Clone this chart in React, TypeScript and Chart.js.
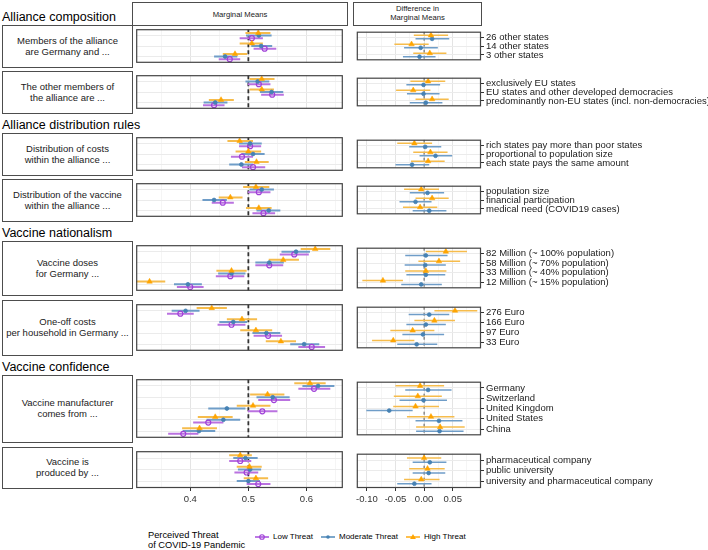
import React, { useEffect, useRef } from "react";
import { Chart, registerables } from "chart.js";

Chart.register(...registerables);

const FONT = '"Liberation Sans", Arial, Helvetica, sans-serif';

// ---------- level labels ----------
const membersLevels = ["26 other states", "14 other states", "3 other states"];
const othersLevels = [
  "exclusively EU states",
  "EU states and other developed democracies",
  "predominantly non-EU states (incl. non-democracies)",
];
const costsLevels = [
  "rich states pay more than poor states",
  "proportional to population size",
  "each state pays the same amount",
];
const vaccineLevels = ["population size", "financial participation", "medical need (COVID19 cases)"];
const dosesLevels = [
  "82 Million (~ 100% population)",
  "58 Million (~ 70% population)",
  "33 Million (~ 40% population)",
  "12 Million (~ 15% population)",
];
const householdLevels = ["276 Euro", "166 Euro", "97 Euro", "33 Euro"];
const countryLevels = ["Germany", "Switzerland", "United Kingdom", "United States", "China"];
const producerLevels = ["pharmaceutical company", "public university", "university and pharmaceutical company"];

// ---------- marginal means (28 levels in display order) ----------
const mmLow = [0.506, 0.528, 0.468, 0.518, 0.541, 0.441, 0.503, 0.489, 0.508, 0.518, 0.456, 0.526, 0.579, 0.536, 0.469, 0.400, 0.383, 0.471, 0.534, 0.609, 0.613, 0.544, 0.524, 0.431, 0.388, 0.486, 0.497, 0.517];
const mmLowLo = [0.485, 0.509, 0.449, 0.499, 0.522, 0.422, 0.484, 0.470, 0.489, 0.499, 0.437, 0.507, 0.554, 0.512, 0.444, 0.377, 0.360, 0.447, 0.509, 0.586, 0.586, 0.517, 0.499, 0.405, 0.362, 0.467, 0.476, 0.497];
const mmLowHi = [0.525, 0.548, 0.486, 0.538, 0.561, 0.459, 0.522, 0.508, 0.529, 0.538, 0.475, 0.546, 0.604, 0.560, 0.493, 0.423, 0.406, 0.495, 0.558, 0.632, 0.641, 0.572, 0.550, 0.457, 0.414, 0.505, 0.517, 0.538];

const mmMod = [0.518, 0.522, 0.460, 0.516, 0.540, 0.443, 0.503, 0.508, 0.488, 0.523, 0.441, 0.535, 0.582, 0.536, 0.471, 0.396, 0.392, 0.474, 0.531, 0.596, 0.620, 0.542, 0.463, 0.457, 0.415, 0.495, 0.503, 0.500];
const mmModLo = [0.496, 0.505, 0.441, 0.495, 0.520, 0.423, 0.484, 0.488, 0.467, 0.502, 0.421, 0.514, 0.557, 0.512, 0.448, 0.372, 0.368, 0.450, 0.507, 0.572, 0.593, 0.514, 0.431, 0.428, 0.387, 0.474, 0.482, 0.480];
const mmModHi = [0.540, 0.541, 0.481, 0.536, 0.560, 0.464, 0.523, 0.528, 0.508, 0.544, 0.463, 0.555, 0.606, 0.561, 0.495, 0.420, 0.416, 0.498, 0.555, 0.622, 0.648, 0.571, 0.495, 0.486, 0.443, 0.516, 0.522, 0.520];

const mmHigh = [0.517, 0.506, 0.477, 0.523, 0.523, 0.453, 0.485, 0.500, 0.514, 0.513, 0.469, 0.518, 0.615, 0.560, 0.471, 0.330, 0.437, 0.489, 0.513, 0.556, 0.606, 0.533, 0.508, 0.443, 0.416, 0.486, 0.502, 0.513];
const mmHighLo = [0.495, 0.485, 0.456, 0.502, 0.502, 0.432, 0.464, 0.478, 0.494, 0.491, 0.449, 0.496, 0.590, 0.535, 0.445, 0.303, 0.411, 0.463, 0.486, 0.530, 0.579, 0.503, 0.480, 0.413, 0.386, 0.467, 0.480, 0.492];
const mmHighHi = [0.538, 0.525, 0.498, 0.545, 0.544, 0.475, 0.508, 0.522, 0.535, 0.536, 0.490, 0.540, 0.641, 0.587, 0.497, 0.357, 0.463, 0.515, 0.541, 0.582, 0.633, 0.562, 0.538, 0.473, 0.446, 0.506, 0.523, 0.534];

// ---------- differences in marginal means (vs. Low Threat) ----------
const dMod = [0.014, -0.006, -0.008, -0.001, -0.001, 0.003, 0.002, 0.020, -0.021, 0.006, -0.015, 0.009, 0.003, 0.002, 0.003, -0.005, 0.009, 0.003, -0.002, -0.013, 0.007, -0.001, -0.061, 0.026, 0.027, 0.010, 0.008, -0.017];
const dModLo = [-0.015, -0.035, -0.037, -0.031, -0.030, -0.025, -0.026, -0.008, -0.050, -0.025, -0.043, -0.020, -0.033, -0.034, -0.031, -0.040, -0.027, -0.031, -0.038, -0.047, -0.033, -0.043, -0.101, -0.015, -0.014, -0.020, -0.020, -0.047];
const dModHi = [0.044, 0.024, 0.020, 0.028, 0.027, 0.032, 0.030, 0.049, 0.009, 0.035, 0.013, 0.039, 0.041, 0.038, 0.037, 0.031, 0.044, 0.038, 0.035, 0.023, 0.048, 0.040, -0.020, 0.067, 0.069, 0.039, 0.037, 0.013];

const dHigh = [0.012, -0.022, 0.010, 0.007, -0.019, 0.014, -0.017, 0.011, 0.007, -0.005, 0.014, -0.007, 0.038, 0.026, 0.003, -0.072, 0.054, 0.018, -0.020, -0.054, -0.007, -0.011, -0.015, 0.012, 0.028, 0.000, 0.006, -0.005];
const dHighLo = [-0.018, -0.052, -0.019, -0.024, -0.049, -0.015, -0.047, -0.019, -0.023, -0.035, -0.015, -0.037, 0.003, -0.010, -0.033, -0.108, 0.018, -0.017, -0.059, -0.091, -0.050, -0.053, -0.054, -0.030, -0.014, -0.030, -0.026, -0.035];
const dHighHi = [0.042, 0.008, 0.039, 0.037, 0.011, 0.043, 0.014, 0.041, 0.036, 0.026, 0.043, 0.023, 0.075, 0.063, 0.039, -0.037, 0.093, 0.054, 0.018, -0.017, 0.035, 0.031, 0.026, 0.053, 0.071, 0.030, 0.036, 0.027];

// ---------- axis ticks ----------
const leftTicks = [0.35, 0.4, 0.45, 0.5, 0.55, 0.6, 0.65];
const rightTicks = [-0.1, -0.075, -0.05, -0.025, 0, 0.025, 0.05, 0.075];

// ---------- layout ----------
const LX = 132, LW = 215;
const RX = 353, RW = 128;
const AXIS_H = 18;
const LEFT_MIN = 0.307, LEFT_MAX = 0.6625;
const RIGHT_MIN = -0.1177, RIGHT_MAX = 0.0995;

const panels = [
  { strip: ["Members of the alliance", "are Germany and ..."], levels: membersLevels, top: 25, h: 42 },
  { strip: ["The other members of", "the alliance are ..."], levels: othersLevels, top: 71, h: 42 },
  { strip: ["Distribution of costs", "within the alliance ..."], levels: costsLevels, top: 133, h: 42 },
  { strip: ["Distribution of the vaccine", "within the alliance ..."], levels: vaccineLevels, top: 179, h: 42 },
  { strip: ["Vaccine doses", "for Germany ..."], levels: dosesLevels, top: 241, h: 54 },
  { strip: ["One-off costs", "per household in Germany ..."], levels: householdLevels, top: 300, h: 55 },
  { strip: ["Vaccine manufacturer", "comes from ..."], levels: countryLevels, top: 375, h: 67 },
  { strip: ["Vaccine is", "produced by ..."], levels: producerLevels, top: 447, h: 41 },
];

const headings = [
  { text: "Alliance composition", center: 17.5 },
  { text: "Alliance distribution rules", center: 125.5 },
  { text: "Vaccine nationalism", center: 233.5 },
  { text: "Vaccine confidence", center: 367.5 },
];

const COL = {
  high: { bar: "#F6BC4C", pt: "#FFA500" },
  mod: { bar: "#6F9DC8", pt: "#4682B4" },
  low: { bar: "#BA72E0", pt: "#A040D8" },
};

const LEFT_SERIES = [
  { est: mmHigh, lo: mmHighLo, hi: mmHighHi, off: -0.25, c: COL.high, shape: "triangle", r: 3.2, bw: 0.5, fill: true },
  { est: mmMod, lo: mmModLo, hi: mmModHi, off: 0, c: COL.mod, shape: "circle", r: 1.9, bw: 0.8, fill: true },
  { est: mmLow, lo: mmLowLo, hi: mmLowHi, off: 0.25, c: COL.low, shape: "circle", r: 2.5, bw: 1.2, fill: false },
];
const RIGHT_SERIES = [
  { est: dHigh, lo: dHighLo, hi: dHighHi, off: -0.2, c: COL.high, shape: "triangle", r: 3.2, bw: 0.5, fill: true },
  { est: dMod, lo: dModLo, hi: dModHi, off: 0.2, c: COL.mod, shape: "circle", r: 1.9, bw: 0.8, fill: true },
];

const fontSpec = (size: number) => ({ family: FONT, size });

const borderPlugin = {
  id: "panelBorder",
  afterDraw(chart: any) {
    const { left, top, right, bottom } = chart.chartArea;
    const ctx = chart.ctx;
    ctx.save();
    ctx.strokeStyle = "#444444";
    ctx.lineWidth = 1.2;
    ctx.strokeRect(left + 0.5, top + 0.5, right - left - 1, bottom - top - 1);
    ctx.restore();
  },
};

function xScale(min: number, max: number, ticks: number[], isMajor: (v: number) => boolean, fmt: (v: number) => string, show: boolean) {
  return {
    type: "linear",
    min,
    max,
    afterBuildTicks: (ax: any) => {
      ax.ticks = ticks.map((v) => ({ value: v }));
    },
    afterFit: (ax: any) => {
      ax.height = show ? AXIS_H : 0;
    },
    border: { display: false },
    grid: {
      color: (c: any) => (c.tick && isMajor(c.tick.value) ? "#E4E4E4" : "#F1F1F1"),
      lineWidth: (c: any) => (c.tick && isMajor(c.tick.value) ? 1 : 0.7),
      drawTicks: show,
      tickLength: 3,
      tickColor: (c: any) => (c.tick && isMajor(c.tick.value) ? "#333333" : "rgba(0,0,0,0)"),
    },
    ticks: {
      display: show,
      autoSkip: false,
      maxRotation: 0,
      padding: 3,
      color: "#333333",
      font: fontSpec(9.5),
      callback: (v: number) => (isMajor(v) ? fmt(v) : ""),
    },
  };
}

function yScale(levels: string[], right: boolean, labelW: number) {
  const n = levels.length;
  return {
    type: "linear",
    reverse: true,
    min: 0.4,
    max: n + 0.6,
    position: right ? "right" : "left",
    afterBuildTicks: (ax: any) => {
      ax.ticks = levels.map((_, i) => ({ value: i + 1 }));
    },
    afterFit: (ax: any) => {
      ax.width = right ? labelW : 0;
    },
    border: { display: false },
    grid: { color: "#EBEBEB", lineWidth: 1, drawTicks: right, tickLength: 3, tickColor: "#333333" },
    ticks: {
      display: right,
      autoSkip: false,
      padding: 2,
      color: "#1A1A1A",
      font: fontSpec(9.5),
      callback: (v: number) => levels[Math.round(v) - 1] ?? "",
    },
  };
}

function buildDatasets(levels: string[], start: number, series: any[], ref: number, refStyle: any, barW: number) {
  const n = levels.length;
  const ds: any[] = [];
  ds.push({
    type: "line",
    data: [
      { x: ref, y: 0.4 },
      { x: ref, y: n + 0.6 },
    ],
    borderColor: refStyle.color,
    borderWidth: refStyle.width,
    borderDash: refStyle.dash,
    pointRadius: 0,
    order: 3,
  });
  series.forEach((s) => {
    for (let i = 0; i < n; i++) {
      const k = start + i;
      ds.push({
        type: "line",
        data: [
          { x: s.lo[k], y: i + 1 + s.off },
          { x: s.hi[k], y: i + 1 + s.off },
        ],
        borderColor: s.c.bar,
        borderWidth: barW,
        pointRadius: 0,
        order: 2,
      });
    }
    ds.push({
      type: "scatter",
      data: levels.map((_, i) => ({ x: s.est[start + i], y: i + 1 + s.off })),
      pointStyle: s.shape,
      pointRadius: s.r,
      pointBackgroundColor: s.fill ? s.c.pt : "rgba(255,255,255,0)",
      pointBorderColor: s.c.pt,
      pointBorderWidth: s.bw,
      backgroundColor: s.fill ? s.c.pt : "rgba(255,255,255,0)",
      borderColor: s.c.pt,
      order: 1,
    });
  });
  return ds;
}

const majorLeft = (v: number) => Math.abs(v * 10 - Math.round(v * 10)) < 1e-6;
const majorRight = (v: number) => Math.abs(v * 20 - Math.round(v * 20)) < 1e-6;

function baseOptions(padding: any, scales: any) {
  return {
    responsive: false,
    maintainAspectRatio: false,
    animation: false,
    events: [],
    devicePixelRatio: 1,
    layout: { padding },
    plugins: { legend: { display: false }, tooltip: { enabled: false } },
    scales,
  };
}

function leftConfig(p: any): any {
  return {
    type: "scatter",
    data: {
      datasets: buildDatasets(p.levels, p.start, LEFT_SERIES, 0.5, { color: "#333333", width: 1.8, dash: [4, 3] }, 2),
    },
    options: baseOptions(
      { left: 1, right: 1, top: 1, bottom: p.bottom ? 0 : 1 },
      {
        x: xScale(LEFT_MIN, LEFT_MAX, leftTicks, majorLeft, (v) => v.toFixed(1), p.bottom),
        y: yScale(p.levels, false, 0),
      }
    ),
    plugins: [borderPlugin],
  };
}

function rightConfig(p: any, canvasW: number): any {
  return {
    type: "scatter",
    data: {
      datasets: buildDatasets(p.levels, p.start, RIGHT_SERIES, 0, { color: "#666666", width: 1.1, dash: [3, 3] }, 1.5),
    },
    options: baseOptions(
      { left: 1, right: 0, top: 1, bottom: p.bottom ? 0 : 1 },
      {
        x: xScale(RIGHT_MIN, RIGHT_MAX, rightTicks, majorRight, (v) => v.toFixed(2), p.bottom),
        y: yScale(p.levels, true, canvasW - 1 - RW),
      }
    ),
    plugins: [borderPlugin],
  };
}

function ChartBox({ left, top, width, height, make }: any) {
  const ref = useRef<HTMLCanvasElement>(null);
  useEffect(() => {
    const chart = new Chart(ref.current as HTMLCanvasElement, make());
    return () => chart.destroy();
  }, []);
  return (
    <canvas
      ref={ref}
      width={width}
      height={height}
      style={{ position: "absolute", left, top, width, height, display: "block" }}
    />
  );
}

function LegendKey({ color, shape }: any) {
  return (
    <svg width={14} height={8} style={{ display: "block" }}>
      <line x1={0} y1={4} x2={14} y2={4} stroke={color} strokeWidth={1.4} />
      {shape === "triangle" && <polygon points="7,1 9.9,6 4.1,6" fill={color} />}
      {shape === "dot" && <circle cx={7} cy={4} r={1.8} fill={color} />}
      {shape === "open" && <circle cx={7} cy={4} r={2.3} fill="none" stroke={color} strokeWidth={1.1} />}
    </svg>
  );
}

export default function App() {
  let start = 0;
  const items = panels.map((p, idx) => {
    const s = start;
    start += p.levels.length;
    return { ...p, start: s, bottom: idx === panels.length - 1 };
  });
  const rightCanvasW = 708 - (RX - 1);

  const legendItems = [
    { label: "Low Threat", x: 255, color: COL.low.pt, shape: "open" },
    { label: "Moderate Threat", x: 321, color: COL.mod.pt, shape: "dot" },
    { label: "High Threat", x: 406, color: COL.high.pt, shape: "triangle" },
  ];

  return (
    <div
      style={{
        position: "fixed",
        left: 0,
        top: 0,
        width: 708,
        height: 550,
        background: "#ffffff",
        overflow: "hidden",
        fontFamily: FONT,
        color: "#000",
      }}
    >
      {headings.map((h) => (
        <div
          key={h.text}
          style={{ position: "absolute", left: 2, top: h.center - 7.4, fontSize: 12.5, lineHeight: "15px", whiteSpace: "nowrap" }}
        >
          {h.text}
        </div>
      ))}

      <div
        style={{
          position: "absolute",
          left: LX,
          top: 2,
          width: LW + 1,
          height: 24,
          boxSizing: "border-box",
          border: "1px solid #4D4D4D",
          display: "flex",
          alignItems: "center",
          justifyContent: "center",
          fontSize: 7.7,
          color: "#1A1A1A",
        }}
      >
        Marginal Means
      </div>
      <div
        style={{
          position: "absolute",
          left: RX,
          top: 2,
          width: RW + 1,
          height: 24,
          boxSizing: "border-box",
          border: "1px solid #4D4D4D",
          display: "flex",
          alignItems: "center",
          justifyContent: "center",
          textAlign: "center",
          fontSize: 7.7,
          lineHeight: "8.6px",
          color: "#1A1A1A",
        }}
      >
        Difference in
        <br />
        Marginal Means
      </div>

      {items.map((p, i) => (
        <React.Fragment key={i}>
          <div
            style={{
              position: "absolute",
              left: 2,
              top: p.top,
              width: LX - 2 + 1,
              height: p.h + 1,
              boxSizing: "border-box",
              border: "1px solid #4D4D4D",
              display: "flex",
              alignItems: "center",
              justifyContent: "center",
              textAlign: "center",
              fontSize: 9.5,
              lineHeight: "10.8px",
              color: "#1A1A1A",
            }}
          >
            <div>
              {p.strip[0]}
              <br />
              {p.strip[1]}
            </div>
          </div>
          <ChartBox
            left={LX - 1}
            top={p.top - 1}
            width={LW + 2}
            height={p.bottom ? p.h + 1 + AXIS_H : p.h + 2}
            make={() => leftConfig(p)}
          />
          <ChartBox
            left={RX - 1}
            top={p.top - 1}
            width={rightCanvasW}
            height={p.bottom ? p.h + 1 + AXIS_H : p.h + 2}
            make={() => rightConfig(p, rightCanvasW)}
          />
        </React.Fragment>
      ))}

      <div style={{ position: "absolute", left: 148, top: 530, fontSize: 9.3, lineHeight: "10px", whiteSpace: "nowrap" }}>
        Perceived Threat
        <br />
        of COVID-19 Pandemic
      </div>
      {legendItems.map((it) => (
        <React.Fragment key={it.label}>
          <div style={{ position: "absolute", left: it.x, top: 533 }}>
            <LegendKey color={it.color} shape={it.shape} />
          </div>
          <div style={{ position: "absolute", left: it.x + 18, top: 532, fontSize: 8, lineHeight: "10px", whiteSpace: "nowrap" }}>
            {it.label}
          </div>
        </React.Fragment>
      ))}
    </div>
  );
}
